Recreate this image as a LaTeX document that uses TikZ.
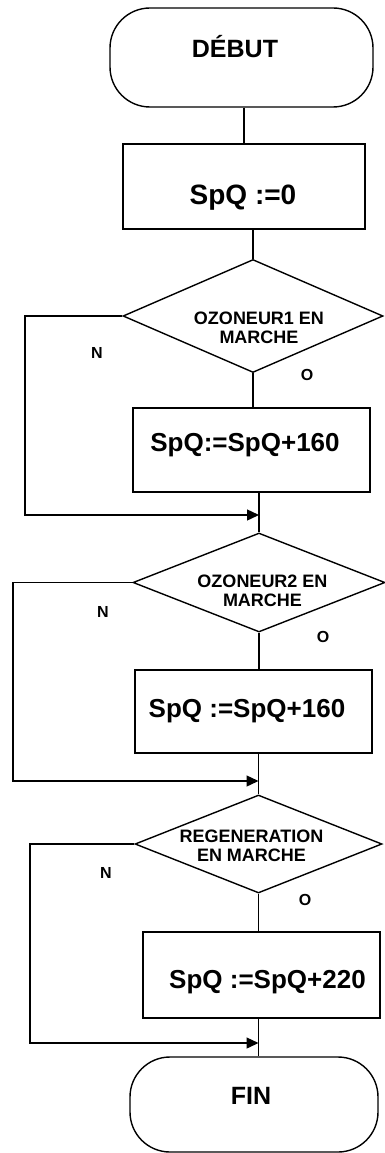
\documentclass[tikz,border=0pt]{standalone}
\usepackage{fontspec}
\setmainfont{Liberation Sans}
\usetikzlibrary{shapes.geometric,arrows.meta}

\newcommand{\termfont}{\fontsize{25}{27}\selectfont\bfseries}
\newcommand{\boxfont}{\fontsize{26}{28}\selectfont\bfseries}
\newcommand{\testfont}{\fontsize{18}{19}\selectfont\bfseries}
\newcommand{\yesnofont}{\fontsize{16}{18}\selectfont\bfseries}

\tikzset{
  term/.style={draw, line width=1.4pt, rounded corners=40pt, inner sep=0pt},
  proc/.style={draw, line width=1.4pt, inner sep=0pt},
  test/.style={draw, diamond, line width=1.4pt, inner sep=0pt},
  flow/.style={line width=1.4pt},
  back/.style={line width=1.4pt, -{Triangle[length=12pt,width=11pt]}},
  yesno/.style={font=\yesnofont},
}

\begin{document}
\begin{tikzpicture}[x=1pt,y=-1pt]
                    \useasboundingbox (0,0) rectangle (385,1153);
                    % blocs
                    \node[term, minimum width=263pt, minimum height=99pt,
                          label={[font=\termfont, xshift=-6.5pt, yshift=11pt]center:DÉBUT}] (debut) at (241.5,57.5) {};
                    \node[proc, minimum width=242pt, minimum height=85pt,
                          label={[font=\fontsize{28}{30}\selectfont\bfseries, xshift=-1pt, yshift=-11.5pt]center:SpQ :=0}] (init) at (244,186.5) {};
                    \node[test, minimum width=260pt, minimum height=113pt,
                          label={[font=\testfont, align=center, xshift=6pt, yshift=-12pt]center:OZONEUR1 EN\\MARCHE}] (oz1) at (253,316) {};
                    \node[proc, minimum width=237pt, minimum height=84pt,
                          label={[font=\boxfont, xshift=-6.5pt, yshift=4.5pt]center:SpQ:=SpQ+160}] (add1) at (251.5,450) {};
                    \node[test, minimum width=252pt, minimum height=99pt,
                          label={[font=\testfont, align=center, xshift=3.5pt, yshift=-8pt]center:OZONEUR2 EN\\MARCHE}] (oz2) at (259,582.5) {};
                    \node[proc, minimum width=237pt, minimum height=83pt,
                          label={[font=\boxfont, xshift=-6.5pt, yshift=0pt]center:SpQ :=SpQ+160}] (add2) at (253.5,711.5) {};
                    \node[test, minimum width=247pt, minimum height=98pt,
                          label={[font=\testfont, align=center, xshift=-7pt, yshift=-1.5pt]center:REGENERATION\\EN MARCHE}] (regen) at (258.5,844) {};
                    \node[proc, minimum width=237pt, minimum height=86pt,
                          label={[font=\boxfont, xshift=6pt, yshift=-7pt]center:SpQ :=SpQ+220}] (add3) at (261.5,975) {};
                    \node[term, minimum width=248pt, minimum height=95pt,
                          label={[font=\termfont, xshift=-3pt, yshift=8.5pt]center:FIN}] (fin) at (254,1104.5) {};
                    % O / N
                    \node[yesno] (n1) at (97,353) {N};
                    \node[yesno] (o1) at (307,375) {O};
                    \node[yesno] (n2) at (103,612) {N};
                    \node[yesno] (o2) at (323,637) {O};
                    \node[yesno] (n3) at (106,873) {N};
                    \node[yesno] (o3) at (305,900) {O};
                    % liaisons
                    \draw[flow] (init.north |- debut.south) -- (init.north);
                    \draw[flow] (oz1.north |- init.south) -- (oz1.north);
                    \draw[flow] (oz1.south) -- (oz1.south |- add1.north);
                    \draw[flow] (oz2.north |- add1.south) -- (oz2.north);
                    \draw[flow] (oz2.south) -- (oz2.south |- add2.north);
                    \draw[flow] (regen.north |- add2.south) -- (regen.north);
                    \draw[flow] (regen.south) -- (regen.south |- add3.north);
                    \draw[flow] (regen.south |- add3.south) -- (regen.south |- fin.north);
                    % retours N
                    \coordinate (m1) at (25,515);
                    \coordinate (m2) at (13,781);
                    \coordinate (m3) at (30,1043);
                    \draw[back] (oz1.west) -| (m1) -- (m1 -| oz2.north);
                    \draw[back] (oz2.west) -| (m2) -- (m2 -| regen.north);
                    \draw[back] (regen.west) -| (m3) -- (m3 -| regen.south);
                \end{tikzpicture}
\end{document}
